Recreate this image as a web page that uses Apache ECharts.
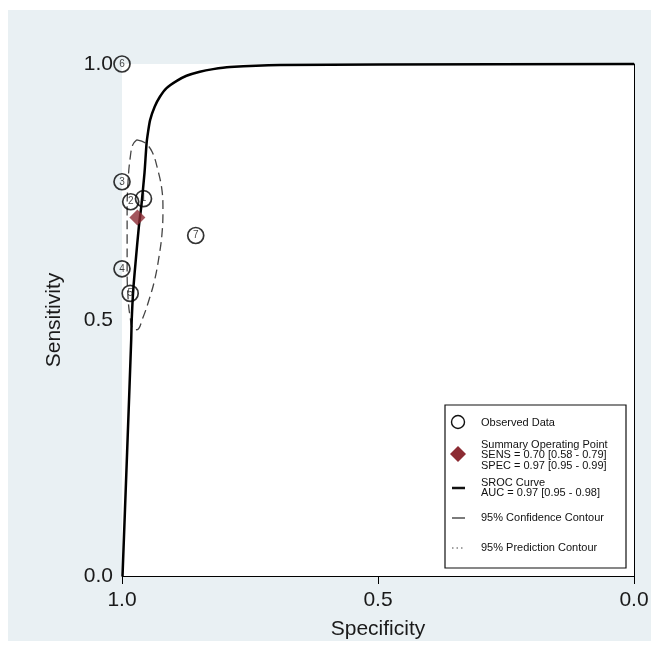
<!DOCTYPE html>
<html>
<head>
<meta charset="utf-8">
<script src="https://cdn.jsdelivr.net/npm/echarts@6/dist/echarts.min.js"></script>
<style>
html,body{margin:0;padding:0;background:#fff;}
#c{width:659px;height:645px;}
</style>
</head>
<body>
<div id="c"></div>
<script>
// ---- data ----
var axisTicks = [0, 0.5, 1];
// Observed studies (specificity, sensitivity, id)
var obsSpec = [0.958, 0.983, 1.000, 1.000, 0.984, 1.000, 0.856];
var obsSens = [0.737, 0.731, 0.770, 0.600, 0.552, 1.000, 0.665];
var obsId   = ['1', '2', '3', '4', '5', '6', '7'];
// Summary operating point
var sumSpec = 0.97;
var sumSens = 0.70;
// SROC curve (specificity, sensitivity)
var srocSpec = [0.999, 0.990, 0.982, 0.981, 0.978, 0.973, 0.967, 0.962, 0.956, 0.952, 0.949, 0.945, 0.936, 0.926, 0.913, 0.893, 0.874, 0.848, 0.822, 0.789, 0.691, 0.496, 0.000];
var srocSens = [0.000, 0.242, 0.462, 0.501, 0.559, 0.618, 0.683, 0.725, 0.788, 0.845, 0.868, 0.891, 0.917, 0.936, 0.953, 0.967, 0.977, 0.985, 0.990, 0.994, 0.998, 0.999, 1.000];
// 95% confidence contour (specificity, sensitivity)
var confSpec = [0.971, 0.955, 0.941, 0.930, 0.922, 0.920, 0.922, 0.928, 0.936, 0.947, 0.959, 0.971, 0.979, 0.984, 0.988, 0.990, 0.990, 0.990, 0.988, 0.984, 0.979, 0.971];
var confSens = [0.852, 0.846, 0.828, 0.793, 0.754, 0.715, 0.667, 0.622, 0.579, 0.540, 0.505, 0.481, 0.483, 0.505, 0.540, 0.598, 0.657, 0.715, 0.774, 0.817, 0.842, 0.852];
// Legend text
var legendObserved = 'Observed Data';
var legendSummary = ['Summary Operating Point', 'SENS = 0.70 [0.58 - 0.79]', 'SPEC = 0.97 [0.95 - 0.99]'];
var legendSroc = ['SROC Curve', 'AUC = 0.97 [0.95 - 0.98]'];
var legendConf = '95% Confidence Contour';
var legendPred = '95% Prediction Contour';

function zip(a, b, c) {
  return a.map(function (v, i) { return c ? [v, b[i], c[i]] : [v, b[i]]; });
}

var FONT = '"Liberation Sans", Arial, sans-serif';
var chart = echarts.init(document.getElementById('c'), null, {renderer: 'canvas'});

var lgX = 445, lgY = 405;
var legendText = function (x, y, txt) {
  return {type: 'text', left: x, top: y, z: 20,
    style: {text: txt, font: '11px ' + FONT, fill: '#111', lineHeight: 10.5}};
};

chart.setOption({
  backgroundColor: '#ffffff',
  animation: false,
  grid: {left: 122, right: 25, top: 64, bottom: 68, show: true, backgroundColor: '#ffffff', borderWidth: 0, z: 1},
  xAxis: {
    type: 'value', min: 0, max: 1, interval: 0.5, inverse: true,
    name: 'Specificity', nameLocation: 'middle', nameGap: 43,
    nameTextStyle: {fontFamily: FONT, fontSize: 21, color: '#1a1a1a'},
    axisLine: {show: true, lineStyle: {color: '#000', width: 1}},
    axisTick: {show: true, length: 8, lineStyle: {color: '#000'}},
    axisLabel: {fontFamily: FONT, fontSize: 21, color: '#1a1a1a', margin: 14,
      formatter: function (v) { return v.toFixed(1); }},
    splitLine: {show: false}
  },
  yAxis: {
    type: 'value', min: 0, max: 1, interval: 0.5,
    name: 'Sensitivity', nameLocation: 'middle', nameGap: 57, nameRotate: 90,
    nameTextStyle: {fontFamily: FONT, fontSize: 21, color: '#1a1a1a'},
    axisLine: {show: true, lineStyle: {color: '#000', width: 1}},
    axisTick: {show: true, length: 7, lineStyle: {color: '#000'}},
    axisLabel: {fontFamily: FONT, fontSize: 21, color: '#1a1a1a', margin: 9,
      formatter: function (v) { return v.toFixed(1); }},
    splitLine: {show: false}
  },
  graphic: [
    {type: 'rect', shape: {x: 8, y: 10, width: 643, height: 631}, style: {fill: '#e9f0f3'}, z: -10, silent: true},
    {type: 'rect', shape: {x: lgX, y: lgY, width: 181, height: 163}, style: {fill: '#fff', stroke: '#111', lineWidth: 1.2}, z: 15},
    {type: 'circle', shape: {cx: 458, cy: 422, r: 6.5}, style: {fill: '#fff', stroke: '#111', lineWidth: 1.4}, z: 20},
    legendText(481, 417, legendObserved),
    {type: 'polygon', shape: {points: [[458, 446], [466, 454], [458, 462], [450, 454]]}, style: {fill: '#8c2b33'}, z: 20},
    legendText(481, 439, legendSummary.join('\n')),
    {type: 'line', shape: {x1: 452, y1: 488, x2: 465, y2: 488}, style: {stroke: '#111', lineWidth: 2.5}, z: 20},
    legendText(481, 477, legendSroc.join('\n')),
    {type: 'line', shape: {x1: 452, y1: 518, x2: 465, y2: 518}, style: {stroke: '#222', lineWidth: 1.2}, z: 20},
    legendText(481, 512, legendConf),
    {type: 'line', shape: {x1: 452, y1: 548, x2: 465, y2: 548}, style: {stroke: '#444', lineWidth: 1, lineDash: [1.5, 3]}, z: 20},
    legendText(481, 542, legendPred)
  ],
  series: [
    {
      type: 'line', name: 'SROC', data: zip(srocSpec, srocSens), showSymbol: false, symbol: 'none',
      smooth: 0.25, lineStyle: {color: '#000', width: 2.5}, z: 5, clip: false
    },
    {
      type: 'line', name: 'Confidence', data: zip(confSpec, confSens), showSymbol: false, symbol: 'none',
      smooth: 0.4, lineStyle: {color: '#444', width: 1.3, type: [9, 5]}, z: 4
    },
    {
      type: 'scatter', name: 'Observed', data: zip(obsSpec, obsSens, obsId), symbol: 'circle', symbolSize: 16,
      itemStyle: {color: 'rgba(255,255,255,0)', borderColor: '#000', borderWidth: 1.7},
      label: {show: true, position: 'inside', fontFamily: FONT, fontSize: 10, color: '#111',
        formatter: function (p) { return p.value[2]; }},
      clip: false, z: 6
    },
    {
      type: 'scatter', name: 'Summary', data: [[sumSpec, sumSens]], symbol: 'diamond', symbolSize: [16, 16],
      itemStyle: {color: '#8c2b33'}, z: 7, clip: false
    }
  ]
});
</script>
</body>
</html>
